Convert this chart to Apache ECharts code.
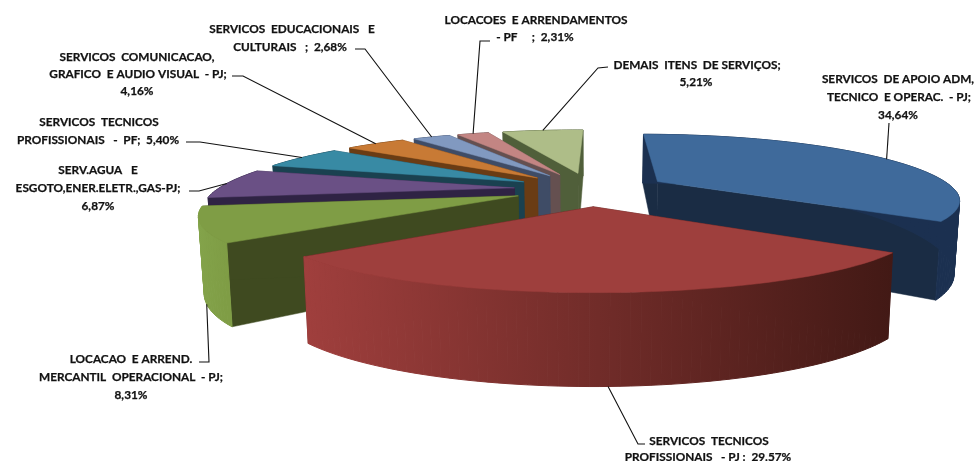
<!DOCTYPE html>
<html><head><meta charset="utf-8">
<style>html,body{margin:0;padding:0;background:#fff}#c{width:975px;height:461px}</style>
<script src="https://cdn.jsdelivr.net/npm/echarts@6/dist/echarts.min.js"></script>
</head><body><div id="c"></div>
<script>
// ---- data ----
const categories = [
  "SERVICOS  DE APOIO ADM,\nTECNICO  E OPERAC.  - PJ;\n34,64%",
  "SERVICOS  TECNICOS\nPROFISSIONAIS   - PJ :  29.57%",
  "LOCACAO  E ARREND.\nMERCANTIL  OPERACIONAL  - PJ;\n8,31%",
  "SERV.AGUA   E\nESGOTO,ENER.ELETR.,GAS-PJ;\n6,87%",
  "SERVICOS  TECNICOS\nPROFISSIONAIS   -  PF;  5,40%",
  "SERVICOS  COMUNICACAO,\nGRAFICO  E AUDIO VISUAL  - PJ;\n4,16%",
  "SERVICOS  EDUCACIONAIS   E\nCULTURAIS   ;  2,68%",
  "LOCACOES  E ARRENDAMENTOS\n- PF     ;  2,31%",
  "DEMAIS  ITENS  DE SERVIÇOS;\n5,21%"
];
const percentValues = [34.64, 29.57, 8.31, 6.87, 5.40, 4.16, 2.68, 2.31, 5.21];

// ---- styles ----
const topColors  = ["#3f6a9b","#9e3f3d","#7f9d45","#6a5085","#388aa4","#c87a35","#8199c0","#c38583","#aebd88"];
const faceColors = ["#1a2c44","#4a1c18","#3f4a20","#2f2344","#1a4150","#6a3c14","#3f4c66","#655050","#505f3a"];
const wallColors = [   // [colour on the slice's left side, colour on its right side]
  ["#1b3050","#1b3050"],
  ["#a03f3d","#421915"],
  ["#83a34a","#7f9d45"],
  ["#2f2344","#2f2344"],["#1a4150","#1a4150"],["#6a3c14","#6a3c14"],
  ["#3f4c66","#3f4c66"],["#655050","#655050"],["#505f3a","#505f3a"]
];

// ---- label layout: line centres, first line y, line step, leader start points, anchor plane, anchor angle shift ----
const labelLayout = [
  {cx:[898,899,898], y:79,  dy:18, lead:[[889,123]], plane:"top", da:3.5},
  {cx:[709,708],     y:441, dy:16, lead:[[645,444],[638,444]], plane:"bottom", da:-0.5},
  {cx:[131,131,131], y:359, dy:18, lead:[[199,362],[209,362]], plane:"bottom", da:0},
  {cx:[98,98,98],    y:170, dy:18, lead:[[189,191],[199,191]], plane:"top", da:0},
  {cx:[99,98],       y:122, dy:18, lead:[[186,142],[200,142]], plane:"top", da:0},
  {cx:[137,138,137], y:57,  dy:17, lead:[[232,76],[243,76]],   plane:"top", da:0},
  {cx:[292,290],     y:29,  dy:18, lead:[[355,49],[365,49]],   plane:"top", da:0},
  {cx:[536,535],     y:20,  dy:17, lead:[[490,41],[480,41]],   plane:"top", da:0},
  {cx:[697,696],     y:65,  dy:17, lead:[[608,67],[598,68]],   plane:"top", da:0}
];

// ---- 3D pie projection (plane X right, Y toward the viewer, radius 1) ----
const cam = {x0:591, xa:3.373, xb:-0.896, xc:0.158, ya:189, yb:64.6, yc:14, wa:70, wb:19, xShrink:0.985, explode:0.26, rot:0.5};
function proj(X,Y,bottom){
  const s = 1000/(cam.xa + cam.xb*Y + cam.xc*Y*Y);
  const top = cam.ya + cam.yb*Y + cam.yc*Y*Y;
  return bottom ? [cam.x0 + X*s*cam.xShrink, top + cam.wa + cam.wb*Y] : [cam.x0 + X*s, top];
}

// The printed percentages total 99.15; the last slice closes the circle in the drawing.
let acc = cam.rot;
const slices = percentValues.map((v,i)=>{
  const last = i===percentValues.length-1;
  const a0 = acc, a1 = last ? cam.rot+360 : acc + v*3.6; acc = a1;
  const m = (a0+a1)/2*Math.PI/180;
  return {i, v, a0, a1, m, ax:Math.sin(m)*cam.explode, ay:-Math.cos(m)*cam.explode};
});
function arcPt(sl,deg,bottom){
  const t = deg*Math.PI/180;
  return proj(sl.ax+Math.sin(t), sl.ay-Math.cos(t), bottom);
}
const drawOrder = slices.slice().sort((p,q)=>p.ay-q.ay);

function renderSlice(params, api){
  const sl = slices[api.value(0)], i = sl.i;
  const apexT = proj(sl.ax,sl.ay,false), apexB = proj(sl.ax,sl.ay,true);
  const n = Math.max(6,Math.ceil((sl.a1-sl.a0)/1.5));
  const deg = k=>sl.a0+(sl.a1-sl.a0)*k/n;
  const topArc = [];
  for(let k=0;k<=n;k++) topArc.push(arcPt(sl,deg(k),false));
  const xs = topArc.map(p=>p[0]);
  const grad = {type:'linear',global:true,x:Math.min.apply(null,xs),y:0,x2:Math.max.apply(null,xs),y2:0,
    colorStops:[{offset:0,color:wallColors[i][0]},{offset:1,color:wallColors[i][1]}]};
  const face = (d)=>({type:'polygon',shape:{points:[apexT,arcPt(sl,d,false),arcPt(sl,d,true),apexB]},
      style:{fill:faceColors[i],stroke:faceColors[i],lineWidth:0.5}});
  const children=[face(sl.a0),face(sl.a1)];
  for(let k=0;k<n;k++){
    children.push({type:'polygon',shape:{points:[arcPt(sl,deg(k),false),arcPt(sl,deg(k+1),false),arcPt(sl,deg(k+1),true),arcPt(sl,deg(k),true)]},
      style:{fill:grad,stroke:grad,lineWidth:1}});
  }
  children.push({type:'polygon',shape:{points:[apexT].concat(topArc)},
      style:{fill:topColors[i],stroke:topColors[i],lineWidth:0.5}});
  return {type:'group',children};
}
function renderLabel(params, api){
  const i = api.value(0), sl = slices[i], L = labelLayout[i];
  const end = arcPt(sl,(sl.a0+sl.a1)/2+L.da,L.plane==="bottom");
  const children = [{type:'polyline',shape:{points:L.lead.concat([end])},style:{stroke:'#111',lineWidth:1.1,fill:null}}];
  categories[i].split("\n").forEach((t,k)=>{
    children.push({type:'text',style:{text:t,x:L.cx[k],y:L.y+L.dy*k,align:'center',verticalAlign:'middle',
      font:'bold 11.8px Lato, sans-serif',fill:'#111',stroke:'#111',lineWidth:0.25}});
  });
  return {type:'group',children};
}

const chart = echarts.init(document.getElementById('c'),null,{renderer:'canvas'});
chart.setOption({
  animation:false, backgroundColor:'#fff',
  series:[
    {type:'custom',coordinateSystem:'none',silent:true,z:2,renderItem:renderSlice,
     data:drawOrder.map(s=>({value:[s.i,s.v],name:categories[s.i]}))},
    {type:'custom',coordinateSystem:'none',silent:true,z:3,renderItem:renderLabel,
     data:slices.map(s=>({value:[s.i,s.v]}))}
  ]
});
</script></body></html>
